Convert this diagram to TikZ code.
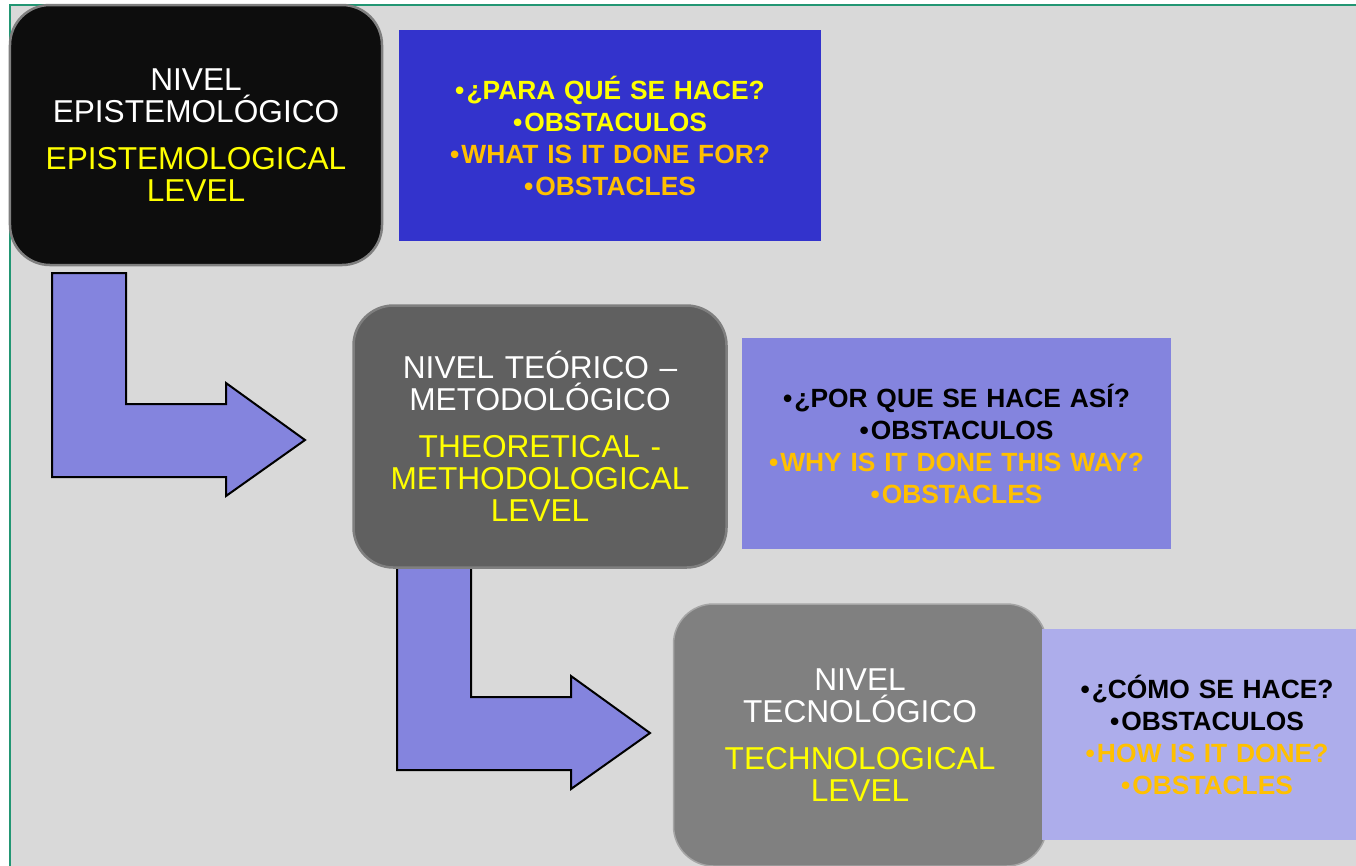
\documentclass[tikz,border=0pt]{standalone}
\usepackage{fontspec}
\setmainfont{Liberation Sans}
\usepackage{xcolor}
\definecolor{PageGray}{HTML}{D9D9D9}
\definecolor{FrameTeal}{RGB}{34,150,115}
\definecolor{EpiColor}{HTML}{0D0D0D}
\definecolor{TeoColor}{HTML}{606060}
\definecolor{TecColor}{HTML}{808080}
\definecolor{EdgeGray}{HTML}{7F7F7F}
\definecolor{QBlue}{HTML}{3333CC}
\definecolor{QLilac}{HTML}{8484DE}
\definecolor{QPale}{HTML}{ADADEB}
\definecolor{TextYellow}{HTML}{FFFF00}
\definecolor{TextOrange}{HTML}{FFC000}
\newcommand{\LevelGap}{3mm}
\newcommand{\QBullet}{•\kern1.2pt}
\newcommand{\BentArrow}[2]{%
  % #1 x, #2 y of the upper left corner (pixels)
  \filldraw[bentarrow,shift={(#1,#2)}]
    (0,0) -- (74,0) -- (74,131) -- (174,131) -- (174,110) -- (253,167)
    -- (174,223) -- (174,204) -- (0,204) -- cycle;
}

\begin{document}
\begin{tikzpicture}[
  x=0.2mm,y=-0.2mm,
  level/.style={rounded corners=8mm,minimum width=74.6mm,minimum height=52.4mm,
    inner sep=0pt,text width=70mm,align=center,text=white,
    font=\fontsize{18}{18.2}\selectfont},
  question/.style={minimum height=42.2mm,inner sep=0pt,align=center,
    font=\bfseries\fontsize{15}{18.2}\selectfont},
  bentarrow/.style={fill=QLilac,draw=black,line width=0.4mm,line join=miter}
]
\useasboundingbox (0,0) rectangle (1356,865);
\clip (0,0) rectangle (1356,865);

% Page
\fill[white] (0,0) rectangle (1356,865);
\fill[PageGray] (10,5) rectangle (1360,870);
\draw[FrameTeal,line width=0.45mm] (10,870) -- (10,5) -- (1360,5);

% Arrows
\BentArrow{52}{273}
\BentArrow{397}{566}

% Levels
\node[level,fill=EpiColor,draw=EdgeGray,line width=0.5mm,
  minimum width=74.4mm,minimum height=52mm] (epi) at (196,135)
  {NIVEL\\EPISTEMOLÓGICO\\[\LevelGap]{\color{TextYellow}EPISTEMOLOGICAL\\LEVEL}};
\node[level,fill=TeoColor,draw=EdgeGray,line width=0.5mm] (teo) at (540,436.5)
  {NIVEL TEÓRICO –\\METODOLÓGICO\\[\LevelGap]{\color{TextYellow}THEORETICAL -\\METHODOLOGICAL\\LEVEL}};
\node[level,fill=TecColor,draw=EdgeGray!70,line width=0.3mm] (tec) at (860,735)
  {NIVEL\\TECNOLÓGICO\\[\LevelGap]{\color{TextYellow}TECHNOLOGICAL\\LEVEL}};

% Questions
\node[question,fill=QBlue,minimum width=84.4mm,text width=80mm] (whyepi) at (610,135.5)
  {{\color{TextYellow}\QBullet¿PARA QUÉ SE HACE?\\\QBullet OBSTACULOS}\\
   {\color{TextOrange}\QBullet WHAT IS IT DONE FOR?\\\QBullet OBSTACLES}};
\node[question,fill=QLilac,minimum width=85.8mm,text width=82mm] (whyteo) at (956.5,443.5)
  {\QBullet¿POR QUE SE HACE ASÍ?\\\QBullet OBSTACULOS\\
   {\color{TextOrange}\QBullet WHY IS IT DONE THIS WAY?\\\QBullet OBSTACLES}};
\node[question,fill=QPale,minimum width=66mm,text width=62mm] (whytec) at (1207,734.5)
  {\QBullet¿CÓMO SE HACE?\\\QBullet OBSTACULOS\\
   {\color{TextOrange}\QBullet HOW IS IT DONE?\\\QBullet OBSTACLES}};

\end{tikzpicture}
\end{document}
